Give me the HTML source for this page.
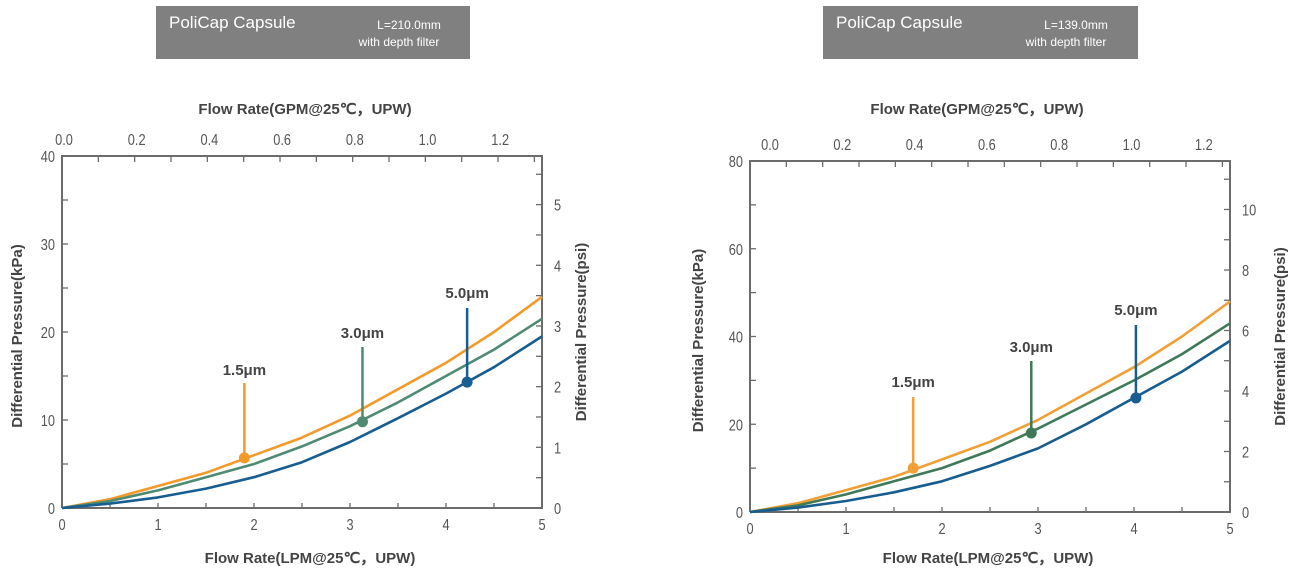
<!DOCTYPE html>
<html><head><meta charset="utf-8"><style>
html,body{margin:0;padding:0;background:#fff;}
svg{display:block;font-family:"Liberation Sans",sans-serif;}
</style></head><body>
<svg id="s" width="1293" height="572" xmlns="http://www.w3.org/2000/svg"></svg>
<script>
const S=document.getElementById('s');let h='';
function num(x,y,t,anchor){return `<text transform="translate(${x},${y}) scale(0.8,1)" font-size="16" fill="#555" text-anchor="${anchor}">${t}</text>`;}
function chart(o){
 const {x0,x1,y0,y1,ymax,psiStep,psiMinor,psiMax,kyStep,gl,cur,mk,lab,box,bl,tx,ypl,ypr}=o;
 const X=v=>x0+(x1-x0)*v/5, Y=v=>y0-(y0-y1)*v/ymax;
 h+=`<rect x="${box[0]}" y="6" width="${box[1]-box[0]}" height="53" fill="#808080"/>`;
 h+=`<text x="${box[0]+13}" y="28" font-size="17" fill="#fff">PoliCap Capsule</text>`;
 h+=`<text x="${box[0]+253}" y="29" font-size="12" fill="#fff" text-anchor="middle">${bl}</text>`;
 h+=`<text x="${box[0]+243}" y="46" font-size="12" fill="#fff" text-anchor="middle">with depth filter</text>`;
 h+=`<path d="M${x0} ${y0}V${y1}H${x1}V${y0}H${x0}" fill="none" stroke="#6b6b6b" stroke-width="2"/>`;
 for(let i=0;i<=10;i++){const x=X(i/2);h+=`<line x1="${x}" y1="${y0}" x2="${x}" y2="${y0-5}" stroke="#6b6b6b" stroke-width="1.3"/>`;}
 for(let i=0;i<=5;i++)h+=num(X(i),y0+22,i,'middle');
 for(let g=0.1;g*3.785<5;g+=0.1){const x=X(g*3.785);h+=`<line x1="${x}" y1="${y1}" x2="${x}" y2="${y1+6}" stroke="#6b6b6b" stroke-width="1.3"/>`;}
 ['0.0','0.2','0.4','0.6','0.8','1.0','1.2'].forEach((t,i)=>h+=num(gl[0]+gl[1]*i,y1-11,t,'middle'));
 for(let v=kyStep/2;v<ymax;v+=kyStep/2)h+=`<line x1="${x0}" y1="${Y(v)}" x2="${x0+6}" y2="${Y(v)}" stroke="#6b6b6b" stroke-width="1.3"/>`;
 for(let v=0;v<=ymax;v+=kyStep)h+=num(x0-7,Y(v)+6,v,'end');
 for(let p=psiMinor;p*6.895<ymax;p+=psiMinor){const y=Y(p*6.895);h+=`<line x1="${x1}" y1="${y}" x2="${x1-6}" y2="${y}" stroke="#6b6b6b" stroke-width="1.3"/>`;}
 for(let p=0;p<=psiMax;p+=psiStep)h+=num(x1+12,Y(p*6.895)+6,p,'start');
 const tt='font-size="15" font-weight="bold" fill="#444"';
 h+=`<text x="${tx[0]}" y="563" ${tt} text-anchor="middle">Flow Rate(LPM@25℃，UPW)</text>`;
 h+=`<text x="${tx[1]}" y="114" ${tt} text-anchor="middle">Flow Rate(GPM@25℃，UPW)</text>`;
 h+=`<text transform="translate(${ypl},${(y0+y1)/2+4}) rotate(-90)" ${tt} text-anchor="middle">Differential Pressure(kPa)</text>`;
 h+=`<text transform="translate(${ypr},${(y0+y1)/2}) rotate(-90)" ${tt} text-anchor="middle">Differential Pressure(psi)</text>`;
 cur.forEach(c=>{let p=c.d.map((v,i)=>X(i/2).toFixed(1)+','+Y(v).toFixed(1)).join(' ');
  h+=`<polyline points="${p}" fill="none" stroke="${c.c}" stroke-width="2.6" stroke-linejoin="round"/>`;});
 mk.forEach((m,i)=>{const c=cur[i].c;const x=X(m[0]),y=Y(m[1]);
  h+=`<line x1="${x}" y1="${m[3]}" x2="${x}" y2="${y}" stroke="${c}" stroke-width="2.5"/>`;
  h+=`<circle cx="${x}" cy="${y}" r="5.5" fill="${c}"/>`;
  h+=`<text x="${x}" y="${m[2]}" font-size="15" font-weight="bold" fill="#444" text-anchor="middle">${lab[i]}</text>`;});
}
chart({x0:62,x1:542,y0:508,y1:156,ymax:40,kyStep:10,psiStep:1,psiMinor:0.5,psiMax:5,
 gl:[64,72.7],box:[156,470],bl:'L=210.0mm',tx:[310,305],ypl:22,ypr:586,
 cur:[{c:'#f39a2a',d:[0,1,2.5,4,6,8,10.5,13.5,16.5,20,24]},
      {c:'#4f8a72',d:[0,0.8,2,3.5,5,7,9.3,12,15,18,21.5]},
      {c:'#175d8f',d:[0,0.5,1.2,2.2,3.5,5.2,7.5,10.2,13,16,19.5]}],
 mk:[[1.9,5.7,375,383],[3.13,9.8,338,347],[4.22,14.3,298,308]],lab:['1.5μm','3.0μm','5.0μm']});
chart({x0:750,x1:1230,y0:512,y1:161,ymax:80,kyStep:20,psiStep:2,psiMinor:1,psiMax:10,
 gl:[770,72.3],box:[823,1138],bl:'L=139.0mm',tx:[988,977],ypl:703,ypr:1285,
 cur:[{c:'#f0a036',d:[0,2,5,8,12,16,21,27,33,40,48]},
      {c:'#3f7a58',d:[0,1.5,4,7,10,14,19,24.5,30,36,43]},
      {c:'#175d8f',d:[0,1,2.5,4.5,7,10.5,14.5,20,26,32,39]}],
 mk:[[1.7,10,387,397],[2.93,18,352,361],[4.02,26,315,325]],lab:['1.5μm','3.0μm','5.0μm']});
S.innerHTML=h;
</script>
</body></html>
